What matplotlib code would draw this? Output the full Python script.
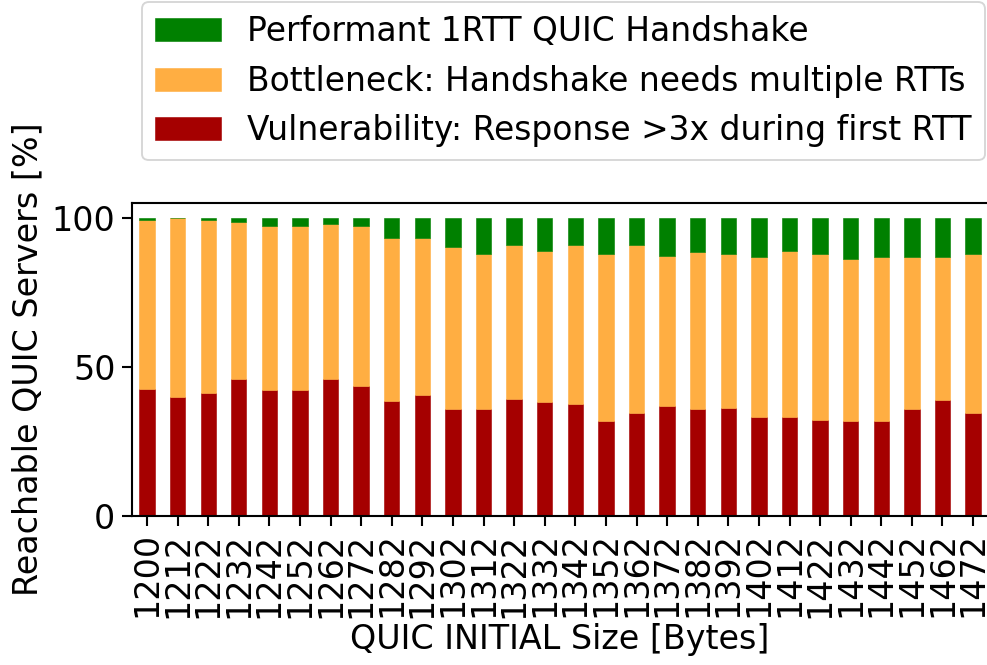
import numpy as np
import matplotlib.pyplot as plt

# INITIAL sizes tested (bytes)
sizes = ["1200", "1212", "1222", "1232", "1242", "1252", "1262", "1272",
         "1282", "1292", "1302", "1312", "1322", "1332", "1342", "1352",
         "1362", "1372", "1382", "1392", "1402", "1412", "1422", "1432",
         "1442", "1452", "1462", "1472"]

# share of servers [%] per outcome
vulnerable = [42.6, 39.9, 41.2, 45.9, 42.2, 42.2, 45.9, 43.6, 38.6, 40.5,
              35.9, 35.9, 39.2, 38.3, 37.6, 31.9, 34.6, 37.0, 35.9, 36.3,
              33.3, 33.3, 32.3, 31.9, 31.9, 35.9, 39.0, 34.6]
bottleneck = [56.7, 60.1, 58.1, 52.8, 55.1, 55.1, 52.1, 53.7, 54.7, 52.8,
              54.4, 52.1, 51.8, 50.7, 53.4, 56.1, 56.4, 50.3, 52.5, 51.7,
              53.4, 55.4, 55.7, 54.4, 55.1, 51.1, 48.0, 53.1]
performant = [0.7, 0.0, 0.7, 1.3, 2.7, 2.7, 2.0, 2.7, 6.7, 6.7,
              9.7, 12.0, 9.0, 11.0, 9.0, 12.0, 9.0, 12.7, 11.6, 12.0,
              13.3, 11.3, 12.0, 13.7, 13.0, 13.0, 13.0, 12.3]

labels = ["Vulnerability: Response >3x during first RTT",
          "Bottleneck: Handshake needs multiple RTTs",
          "Performant 1RTT QUIC Handshake"]
colors = ["#a50000", "#ffae42", "#008000"]

plt.rcParams["font.size"] = 17.5
plt.rcParams["axes.linewidth"] = 1.1
plt.rcParams["xtick.major.size"] = 5
plt.rcParams["ytick.major.size"] = 5
plt.rcParams["xtick.major.width"] = 1.1
plt.rcParams["ytick.major.width"] = 1.1

fig = plt.figure(figsize=(987 / 137.5, 665 / 137.5), dpi=137.5)
ax = fig.add_axes([0.1334, 0.224, 0.868, 0.471])

x = np.arange(len(sizes))
bottom = np.zeros(len(sizes))
for vals, lab, col in zip([vulnerable, bottleneck, performant], labels, colors):
    ax.bar(x, vals, 0.5, bottom=bottom, color=col, label=lab,
           edgecolor=col, linewidth=0.3)
    bottom += np.array(vals)

ax.set_xlim(-0.5, len(sizes) - 0.5)
ax.set_ylim(0, 105)
ax.set_yticks([0, 50, 100])
ax.set_xticks(x)
ax.set_xticklabels(sizes, rotation=90)
ax.set_xlabel("QUIC INITIAL Size [Bytes]", labelpad=3)
ax.set_ylabel("Reachable QUIC Servers [%]")

handles, labs = ax.get_legend_handles_labels()
fig.legend(handles[::-1], labs[::-1], loc="upper right", fontsize=17.2,
           borderaxespad=0, bbox_to_anchor=(985 / 987, 1 - 2 / 665))

fig.savefig("out.png", dpi=137.5)
